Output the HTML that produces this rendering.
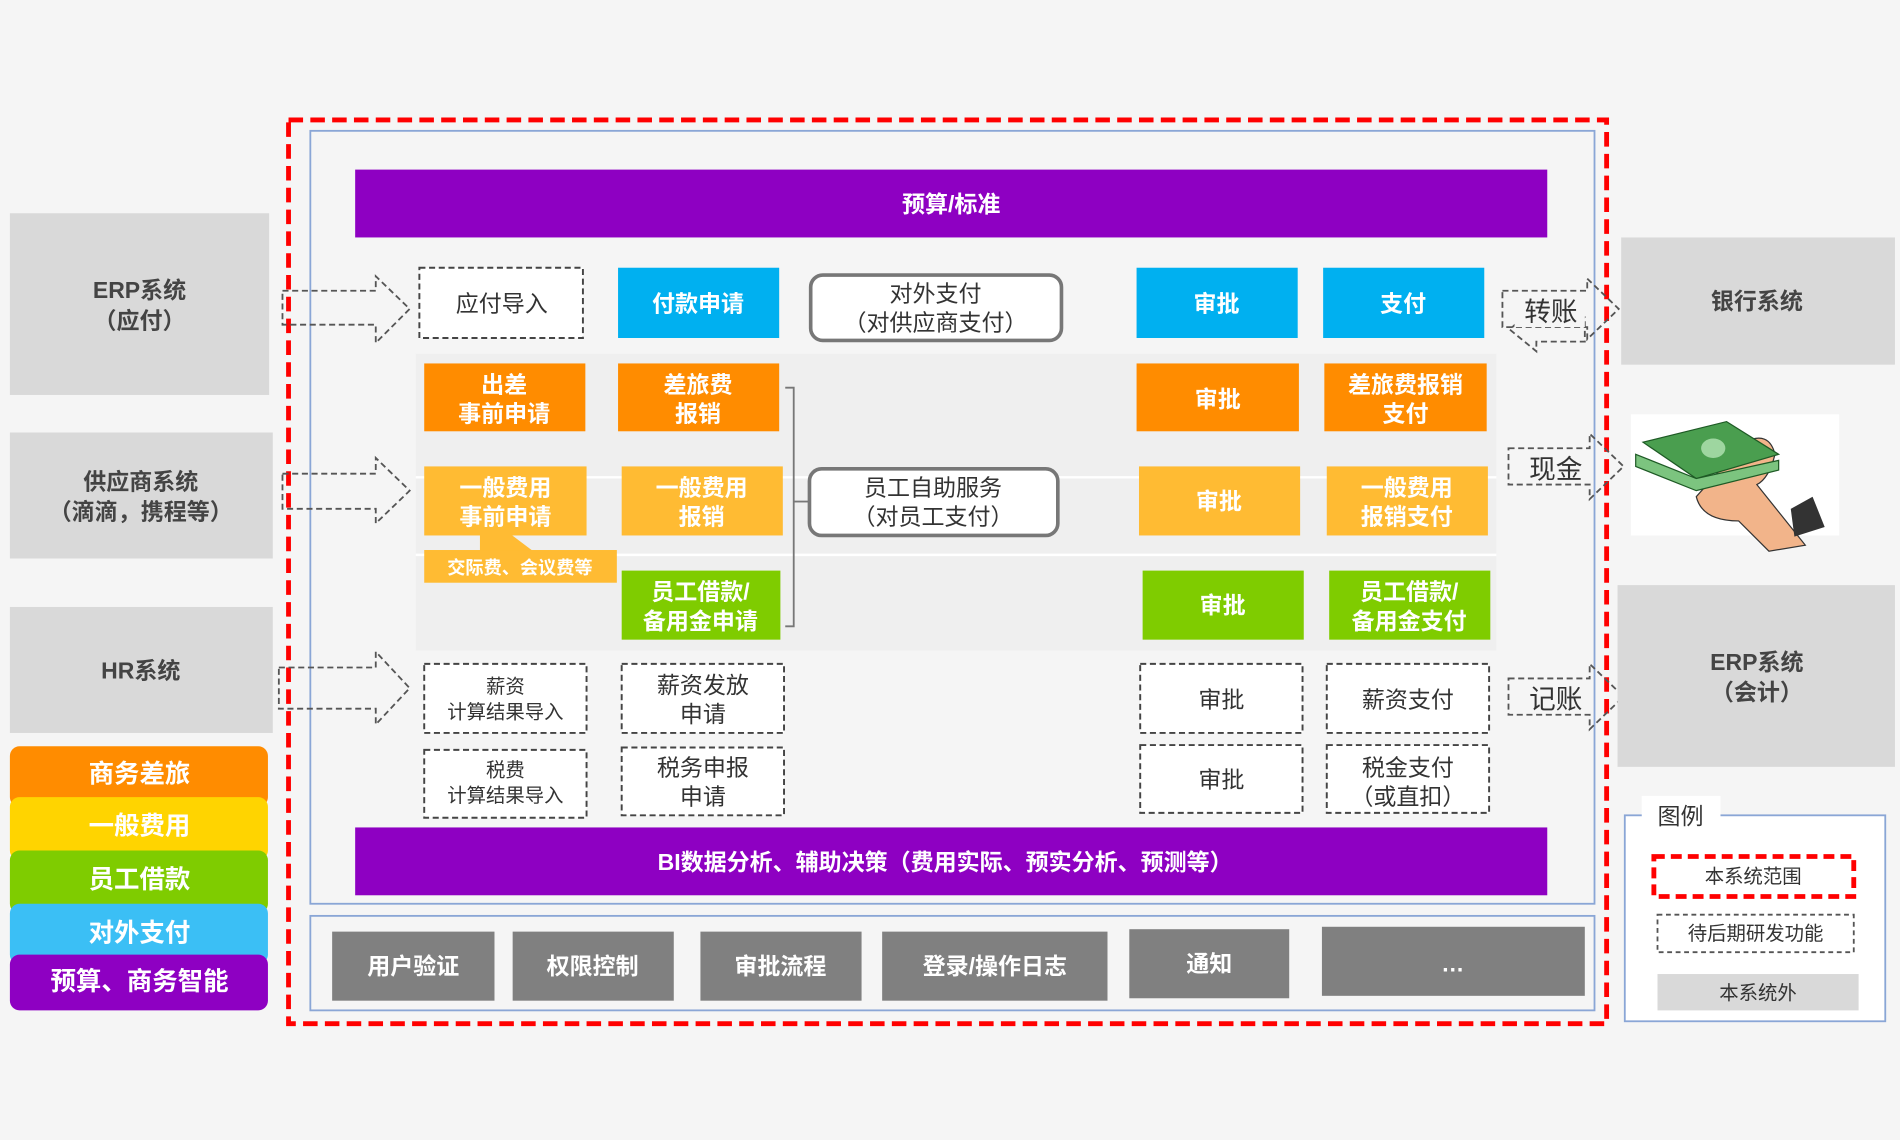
<!DOCTYPE html>
<html><head><meta charset="utf-8"><style>
html,body{margin:0;padding:0;background:#f5f5f5;}
svg{display:block;}
text{font-family:"Liberation Sans","Noto Sans CJK SC",sans-serif;}
.w{fill:#fff;font-weight:bold;font-size:19px;text-anchor:middle;}
.d{fill:#333;font-size:19px;text-anchor:middle;}
.g{fill:#444;font-weight:bold;font-size:19px;text-anchor:middle;}
.s{fill:#333;font-size:16px;text-anchor:middle;}
.dash{fill:#fff;stroke:#444;stroke-width:1.6;stroke-dasharray:5,3;}
.arr{fill:none;stroke:#555;stroke-width:1.5;stroke-dasharray:5,3;}
</style></head><body>
<svg width="1900" height="1140" viewBox="0 0 1568 941" xmlns="http://www.w3.org/2000/svg">
<rect x="0" y="0" width="1568" height="941" fill="#f5f5f5"/>

<!-- left systems -->
<rect x="8" y="176" width="214" height="150" fill="#d9d9d9"/>
<text class="g" x="115" y="246">ERP系统</text><text class="g" x="115" y="271">（应付）</text>
<rect x="8" y="357" width="217" height="104" fill="#d9d9d9"/>
<text class="g" x="116" y="404">供应商系统</text><text class="g" x="116" y="429">（滴滴，携程等）</text>
<rect x="8" y="501" width="217" height="104" fill="#d9d9d9"/>
<text class="g" x="116" y="560">HR系统</text>

<!-- left legend colors -->
<rect x="8" y="616" width="213" height="50" rx="8" fill="#ff8c00"/>
<rect x="8" y="658" width="213" height="52" rx="8" fill="#ffd400"/>
<rect x="8" y="702" width="213" height="52" rx="8" fill="#7fcc00"/>
<rect x="8" y="746" width="213" height="50" rx="8" fill="#3bbff5"/>
<rect x="8" y="788" width="213" height="46" rx="8" fill="#8e00c2"/>
<text class="w" x="115" y="646" style="font-size:21px">商务差旅</text>
<text class="w" x="115" y="689" style="font-size:21px">一般费用</text>
<text class="w" x="115" y="733" style="font-size:21px">员工借款</text>
<text class="w" x="115" y="777" style="font-size:21px">对外支付</text>
<text class="w" x="115" y="817" style="font-size:21px">预算、商务智能</text>

<!-- main boxes -->
<rect x="256" y="108" width="1060" height="638" fill="#f5f5f5" stroke="#8aa6d6" stroke-width="1.5"/>
<rect x="256" y="756" width="1060" height="78" fill="#f5f5f5" stroke="#8aa6d6" stroke-width="1.5"/>
<rect x="238" y="99" width="1088" height="746" fill="none" stroke="#ff0000" stroke-width="4" stroke-dasharray="12,6"/>

<rect x="293" y="140" width="984" height="56" fill="#8e00c2"/>
<text class="w" x="785" y="175">预算/标准</text>

<!-- panel -->
<rect x="343" y="292" width="892" height="245" fill="#efefef"/>
<line x1="343" y1="394" x2="1235" y2="394" stroke="#fff" stroke-width="2"/>
<line x1="343" y1="458" x2="1235" y2="458" stroke="#fff" stroke-width="2"/>

<!-- row1 -->
<rect class="dash" x="346" y="221" width="135" height="58"/>
<text class="d" x="414" y="257">应付导入</text>
<rect x="510" y="221" width="133" height="58" fill="#00b0f0"/>
<text class="w" x="576" y="257">付款申请</text>
<rect x="669" y="227" width="207" height="54" rx="10" fill="#fff" stroke="#777" stroke-width="3"/>
<text class="d" x="772" y="249">对外支付</text><text class="d" x="772" y="273">（对供应商支付）</text>
<rect x="938" y="221" width="133" height="58" fill="#00b0f0"/>
<text class="w" x="1004" y="257">审批</text>
<rect x="1092" y="221" width="133" height="58" fill="#00b0f0"/>
<text class="w" x="1158" y="257">支付</text>

<!-- row2 -->
<rect x="350" y="300" width="133" height="56" fill="#ff8c00"/>
<text class="w" x="416" y="324">出差</text><text class="w" x="416" y="348">事前申请</text>
<rect x="510" y="300" width="133" height="56" fill="#ff8c00"/>
<text class="w" x="576" y="324">差旅费</text><text class="w" x="576" y="348">报销</text>
<rect x="938" y="300" width="134" height="56" fill="#ff8c00"/>
<text class="w" x="1005" y="336">审批</text>
<rect x="1093" y="300" width="134" height="56" fill="#ff8c00"/>
<text class="w" x="1160" y="324">差旅费报销</text><text class="w" x="1160" y="348">支付</text>

<!-- bracket -->
<polyline points="648,320 655,320 655,517 648,517" fill="none" stroke="#777" stroke-width="1.5"/>
<line x1="655" y1="414" x2="667" y2="414" stroke="#777" stroke-width="1.5"/>

<!-- row3 -->
<rect x="350" y="385" width="134" height="57" fill="#ffbb33"/>
<text class="w" x="417" y="409">一般费用</text><text class="w" x="417" y="433">事前申请</text>
<polygon points="396,440 420,440 440,455 396,455" fill="#ffbb33"/>
<rect x="350" y="454" width="159" height="27" fill="#ffbb33"/>
<text class="w" x="429" y="474" style="font-size:15px">交际费、会议费等</text>
<rect x="513" y="385" width="133" height="57" fill="#ffbb33"/>
<text class="w" x="579" y="409">一般费用</text><text class="w" x="579" y="433">报销</text>
<rect x="668" y="387" width="205" height="55" rx="10" fill="#fff" stroke="#777" stroke-width="3"/>
<text class="d" x="770" y="409">员工自助服务</text><text class="d" x="770" y="433">（对员工支付）</text>
<rect x="940" y="385" width="133" height="57" fill="#ffbb33"/>
<text class="w" x="1006" y="420">审批</text>
<rect x="1095" y="385" width="133" height="57" fill="#ffbb33"/>
<text class="w" x="1161" y="409">一般费用</text><text class="w" x="1161" y="433">报销支付</text>

<!-- row4 -->
<rect x="513" y="471" width="131" height="57" fill="#7fcc00"/>
<text class="w" x="578" y="495">员工借款/</text><text class="w" x="578" y="519">备用金申请</text>
<rect x="943" y="471" width="133" height="57" fill="#7fcc00"/>
<text class="w" x="1009" y="506">审批</text>
<rect x="1097" y="471" width="133" height="57" fill="#7fcc00"/>
<text class="w" x="1163" y="495">员工借款/</text><text class="w" x="1163" y="519">备用金支付</text>

<!-- row5 -->
<rect class="dash" x="350" y="548" width="134" height="57"/>
<text class="s" x="417" y="572">薪资</text><text class="s" x="417" y="593">计算结果导入</text>
<rect class="dash" x="513" y="548" width="134" height="57"/>
<text class="d" x="580" y="572">薪资发放</text><text class="d" x="580" y="596">申请</text>
<rect class="dash" x="941" y="548" width="134" height="57"/>
<text class="d" x="1008" y="584">审批</text>
<rect class="dash" x="1095" y="548" width="134" height="57"/>
<text class="d" x="1162" y="584">薪资支付</text>

<!-- row6 -->
<rect class="dash" x="350" y="619" width="134" height="56"/>
<text class="s" x="417" y="641">税费</text><text class="s" x="417" y="662">计算结果导入</text>
<rect class="dash" x="513" y="617" width="134" height="56"/>
<text class="d" x="580" y="640">税务申报</text><text class="d" x="580" y="664">申请</text>
<rect class="dash" x="941" y="615" width="134" height="56"/>
<text class="d" x="1008" y="650">审批</text>
<rect class="dash" x="1095" y="615" width="134" height="56"/>
<text class="d" x="1162" y="640">税金支付</text><text class="d" x="1162" y="664">（或直扣）</text>

<!-- BI bar -->
<rect x="293" y="683" width="984" height="56" fill="#8e00c2"/>
<text class="w" x="780" y="718">BI数据分析、辅助决策（费用实际、预实分析、预测等）</text>

<!-- bottom -->
<g fill="#808080">
<rect x="274" y="769" width="134" height="57"/><rect x="423" y="769" width="133" height="57"/>
<rect x="578" y="769" width="133" height="57"/><rect x="728" y="769" width="186" height="57"/>
<rect x="932" y="767" width="132" height="57"/><rect x="1091" y="765" width="217" height="57"/>
</g>
<text class="w" x="341" y="804">用户验证</text>
<text class="w" x="489" y="804">权限控制</text>
<text class="w" x="644" y="804">审批流程</text>
<text class="w" x="821" y="804">登录/操作日志</text>
<text class="w" x="998" y="802">通知</text>
<text class="w" x="1199" y="802">…</text>

<!-- left arrows -->
<polygon class="arr" points="233,240 310,240 310,228 338,255 310,283 310,268 233,268"/>
<polygon class="arr" points="233,391 310,391 310,378 338,405 310,432 310,420 233,420"/>
<polygon class="arr" points="230,551 310,551 310,538 338,568 310,598 310,585 230,585"/>

<!-- right arrows -->
<polygon class="arr" points="1240,240 1310,240 1310,230 1336,255 1310,280 1310,270 1240,270"/>
<polygon class="arr" points="1308,262 1268,262 1268,252 1246,272 1268,290 1268,282 1308,282"/>
<rect x="1250" y="244" width="58" height="26" fill="#f5f5f5"/>
<text class="d" x="1280" y="265" style="font-size:22px">转账</text>
<polygon class="arr" points="1245,370 1312,370 1312,358 1340,385 1312,412 1312,400 1245,400"/>
<text class="d" x="1284" y="395" style="font-size:22px">现金</text>
<polygon class="arr" points="1245,560 1312,560 1312,548 1340,575 1312,602 1312,590 1245,590"/>
<text class="d" x="1284" y="585" style="font-size:22px">记账</text>

<!-- right systems -->
<rect x="1338" y="196" width="226" height="105" fill="#d9d9d9"/>
<text class="g" x="1450" y="255">银行系统</text>
<rect x="1335" y="483" width="229" height="150" fill="#d9d9d9"/>
<text class="g" x="1450" y="553">ERP系统</text><text class="g" x="1450" y="578">（会计）</text>

<!-- money picture -->
<rect x="1346" y="342" width="172" height="100" fill="#fff"/>
<path d="M1440,365 q20,-10 25,10 q-5,20 -15,25 l20,25 l20,25 l-30,5 l-25,-25 q-30,0 -35,-20 z" fill="#f2b48a" stroke="#333" stroke-width="1"/>
<path d="M1478,420 l18,-10 l10,25 l-25,8 z" fill="#333"/>
<polygon points="1356,365 1425,348 1468,375 1400,395" fill="#4a9e4f" stroke="#1e5a25" stroke-width="1"/>
<polygon points="1350,375 1400,395 1468,380 1468,388 1400,405 1350,385" fill="#7cc47f" stroke="#1e5a25" stroke-width="1"/>
<ellipse cx="1414" cy="370" rx="10" ry="8" fill="#9ed6a0"/>

<!-- legend -->
<rect x="1341" y="673" width="215" height="170" fill="#fff" stroke="#8aa6d6" stroke-width="1.5"/>
<rect x="1355" y="657" width="65" height="30" fill="#fff"/>
<text class="d" x="1387" y="680">图例</text>
<rect x="1365" y="707" width="165" height="33" fill="#fff" stroke="#ff0000" stroke-width="4" stroke-dasharray="9,5"/>
<text class="s" x="1447" y="729">本系统范围</text>
<rect x="1368" y="755" width="162" height="31" fill="#fff" stroke="#555" stroke-width="1.5" stroke-dasharray="4,3"/>
<text class="s" x="1449" y="776">待后期研发功能</text>
<rect x="1368" y="804" width="166" height="30" fill="#d9d9d9"/>
<text class="s" x="1451" y="825">本系统外</text>
</svg>
</body></html>
